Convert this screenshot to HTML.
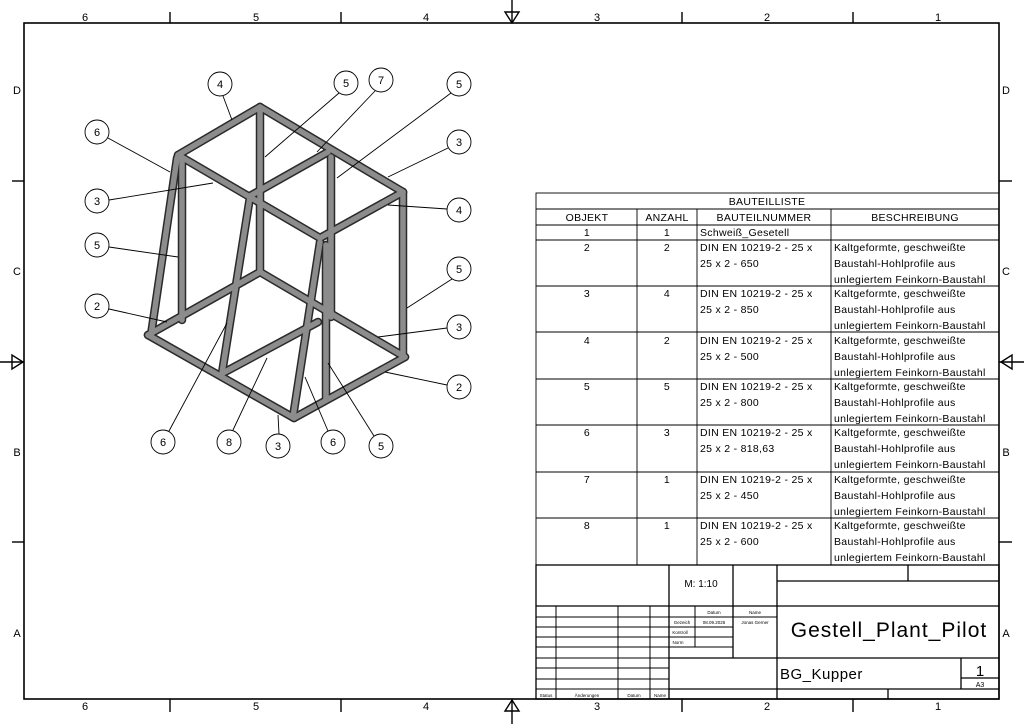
<!DOCTYPE html>
<html><head><meta charset="utf-8"><style>
html,body{margin:0;padding:0;background:#fff}
svg{display:block}
text{font-family:"Liberation Sans","DejaVu Sans",sans-serif;fill:#000}
</style></head><body>
<svg width="1024" height="724" viewBox="0 0 1024 724" xmlns="http://www.w3.org/2000/svg">
<rect x="0" y="0" width="1024" height="724" fill="#fff"/>
<rect x="24" y="23" width="975" height="676" fill="none" stroke="#000" stroke-width="1.6"/>
<g stroke="#000" stroke-width="1.4">
<line x1="170" y1="12" x2="170" y2="23"/><line x1="341" y1="12" x2="341" y2="23"/><line x1="682" y1="12" x2="682" y2="23"/><line x1="853" y1="12" x2="853" y2="23"/>
<line x1="170" y1="699" x2="170" y2="712"/><line x1="341" y1="699" x2="341" y2="712"/><line x1="682" y1="699" x2="682" y2="712"/><line x1="853" y1="699" x2="853" y2="712"/>
<line x1="12" y1="181" x2="24" y2="181"/><line x1="12" y1="542" x2="24" y2="542"/>
<line x1="999" y1="181" x2="1012" y2="181"/><line x1="999" y1="542" x2="1012" y2="542"/>
<line x1="512" y1="0" x2="512" y2="23"/><line x1="512" y1="699" x2="512" y2="724"/>
<line x1="0" y1="362" x2="24" y2="362"/><line x1="999" y1="362" x2="1024" y2="362"/>
</g>
<g fill="none" stroke="#000" stroke-width="1.4">
<polygon points="505,12 519,12 512,23"/><polygon points="505,711 519,711 512,700"/>
<polygon points="12,355 12,369 23,362"/><polygon points="1012,355 1012,369 1001,362"/>
</g>
<g font-size="11" text-anchor="middle">
<text x="85" y="21">6</text><text x="256" y="21">5</text><text x="426" y="21">4</text><text x="597" y="21">3</text><text x="767" y="21">2</text><text x="938" y="21">1</text>
<text x="85" y="710">6</text><text x="256" y="710">5</text><text x="426" y="710">4</text><text x="597" y="710">3</text><text x="767" y="710">2</text><text x="938" y="710">1</text>
<text x="17" y="94">D</text><text x="17" y="275">C</text><text x="17" y="456">B</text><text x="17" y="637">A</text>
<text x="1006" y="94">D</text><text x="1006" y="275">C</text><text x="1006" y="456">B</text><text x="1006" y="637">A</text>
</g>

<!-- frame tubes -->
<g stroke-linecap="round">
<g stroke="#2a2a2a" stroke-width="8.5">
<line x1="260" y1="272" x2="148" y2="335"/><line x1="260" y1="272" x2="405" y2="357"/>
<line x1="260" y1="107" x2="260" y2="272"/><line x1="331" y1="157" x2="331" y2="317"/>
<line x1="182" y1="160" x2="182" y2="320"/><line x1="403" y1="192" x2="403" y2="356"/>
<line x1="223" y1="373" x2="318" y2="322"/>
<line x1="148" y1="335" x2="294" y2="418"/><line x1="294" y1="418" x2="405" y2="357"/>
<line x1="177" y1="158" x2="151" y2="335"/><line x1="250" y1="197" x2="222" y2="373"/>
<line x1="260" y1="107" x2="178" y2="155"/><line x1="260" y1="107" x2="403" y2="192"/>
<line x1="328" y1="152" x2="250" y2="196"/>
<line x1="178" y1="155" x2="320" y2="238"/><line x1="403" y1="192" x2="320" y2="238"/>
<line x1="326" y1="245" x2="326" y2="400"/><line x1="320" y1="242" x2="293" y2="417"/>
</g>
</g>
<g stroke-linecap="round" stroke="#8c8c8c" stroke-width="5.5">
<line x1="260" y1="272" x2="148" y2="335"/><line x1="260" y1="272" x2="405" y2="357"/>
<line x1="260" y1="107" x2="260" y2="272"/><line x1="331" y1="157" x2="331" y2="317"/>
<line x1="182" y1="160" x2="182" y2="320"/><line x1="403" y1="192" x2="403" y2="356"/>
<line x1="223" y1="373" x2="318" y2="322"/>
<line x1="148" y1="335" x2="294" y2="418"/><line x1="294" y1="418" x2="405" y2="357"/>
<line x1="177" y1="158" x2="151" y2="335"/><line x1="250" y1="197" x2="222" y2="373"/>
<line x1="260" y1="107" x2="178" y2="155"/><line x1="260" y1="107" x2="403" y2="192"/>
<line x1="328" y1="152" x2="250" y2="196"/>
<line x1="178" y1="155" x2="320" y2="238"/><line x1="403" y1="192" x2="320" y2="238"/>
<line x1="326" y1="245" x2="326" y2="400"/><line x1="320" y1="242" x2="293" y2="417"/>
</g>

<!-- leaders -->
<g stroke="#000" stroke-width="0.9">
<line x1="223" y1="96" x2="232" y2="120"/><line x1="339" y1="93" x2="265" y2="157"/>
<line x1="375" y1="91" x2="317" y2="152"/><line x1="451" y1="93" x2="337" y2="178"/>
<line x1="108" y1="138" x2="170" y2="172"/><line x1="448" y1="148" x2="388" y2="177"/>
<line x1="109" y1="200" x2="213" y2="183"/><line x1="447" y1="209" x2="388" y2="205"/>
<line x1="109" y1="247" x2="178" y2="257"/><line x1="452" y1="279" x2="407" y2="308"/>
<line x1="109" y1="309" x2="167" y2="322"/><line x1="447" y1="328" x2="378" y2="337"/>
<line x1="447" y1="385" x2="385" y2="372"/><line x1="169" y1="431" x2="227" y2="323"/>
<line x1="233" y1="430" x2="267" y2="358"/><line x1="279" y1="434" x2="278" y2="415"/>
<line x1="328" y1="431" x2="305" y2="377"/><line x1="374" y1="436" x2="328" y2="363"/>
</g>
<g fill="#fff" stroke="#000" stroke-width="0.9">
<circle cx="220" cy="84" r="12"/><circle cx="346" cy="83" r="12"/><circle cx="381" cy="80" r="12"/><circle cx="459" cy="84" r="12"/>
<circle cx="97" cy="132" r="12"/><circle cx="459" cy="142" r="12"/><circle cx="97" cy="201" r="12"/><circle cx="459" cy="210" r="12"/>
<circle cx="97" cy="245" r="12"/><circle cx="459" cy="269" r="12"/><circle cx="97" cy="306" r="12"/><circle cx="459" cy="327" r="12"/>
<circle cx="459" cy="387" r="12"/><circle cx="163" cy="442" r="12"/><circle cx="229" cy="442" r="12"/><circle cx="278" cy="446" r="12"/>
<circle cx="333" cy="442" r="12"/><circle cx="381" cy="446" r="12"/>
</g>
<g font-size="11" text-anchor="middle">
<text x="220" y="88">4</text><text x="346" y="87">5</text><text x="381" y="84">7</text><text x="459" y="88">5</text>
<text x="97" y="136">6</text><text x="459" y="146">3</text><text x="97" y="205">3</text><text x="459" y="214">4</text>
<text x="97" y="249">5</text><text x="459" y="273">5</text><text x="97" y="310">2</text><text x="459" y="331">3</text>
<text x="459" y="391">2</text><text x="163" y="446">6</text><text x="229" y="446">8</text><text x="278" y="450">3</text>
<text x="333" y="446">6</text><text x="381" y="450">5</text>
</g>

<!-- parts list -->
<g stroke="#000" stroke-width="0.9" fill="none">
<rect x="536" y="193" width="463" height="372"/>
<line x1="536" y1="209" x2="999" y2="209"/><line x1="536" y1="225" x2="999" y2="225"/>
<line x1="536" y1="240" x2="999" y2="240"/><line x1="536" y1="286" x2="999" y2="286"/>
<line x1="536" y1="332" x2="999" y2="332"/><line x1="536" y1="379" x2="999" y2="379"/>
<line x1="536" y1="425" x2="999" y2="425"/><line x1="536" y1="472" x2="999" y2="472"/>
<line x1="536" y1="518" x2="999" y2="518"/>
<line x1="637" y1="209" x2="637" y2="565"/><line x1="697" y1="209" x2="697" y2="565"/><line x1="831" y1="209" x2="831" y2="565"/>
</g>
<g font-size="10.5" letter-spacing="0.3">
<text x="767" y="205" text-anchor="middle">BAUTEILLISTE</text>
<text x="587" y="221" text-anchor="middle">OBJEKT</text><text x="667" y="221" text-anchor="middle">ANZAHL</text>
<text x="764" y="221" text-anchor="middle">BAUTEILNUMMER</text><text x="915" y="221" text-anchor="middle">BESCHREIBUNG</text>
<text x="587" y="236" text-anchor="middle">1</text><text x="667" y="236" text-anchor="middle">1</text><text x="700" y="236">Schweiß_Gesetell</text>
</g>
<g font-size="10.5" letter-spacing="0.3">
<g transform="translate(0,0)"><text x="587" y="251" text-anchor="middle">2</text><text x="667" y="251" text-anchor="middle">2</text><text x="700" y="251">DIN EN 10219-2 - 25 x</text><text x="700" y="267">25 x 2  - 650</text><text x="834" y="251">Kaltgeformte, geschweißte</text><text x="834" y="267">Baustahl-Hohlprofile aus</text><text x="834" y="283">unlegiertem Feinkorn-Baustahl</text></g>
<g transform="translate(0,46)"><text x="587" y="251" text-anchor="middle">3</text><text x="667" y="251" text-anchor="middle">4</text><text x="700" y="251">DIN EN 10219-2 - 25 x</text><text x="700" y="267">25 x 2  - 850</text><text x="834" y="251">Kaltgeformte, geschweißte</text><text x="834" y="267">Baustahl-Hohlprofile aus</text><text x="834" y="283">unlegiertem Feinkorn-Baustahl</text></g>
<g transform="translate(0,93)"><text x="587" y="251" text-anchor="middle">4</text><text x="667" y="251" text-anchor="middle">2</text><text x="700" y="251">DIN EN 10219-2 - 25 x</text><text x="700" y="267">25 x 2  - 500</text><text x="834" y="251">Kaltgeformte, geschweißte</text><text x="834" y="267">Baustahl-Hohlprofile aus</text><text x="834" y="283">unlegiertem Feinkorn-Baustahl</text></g>
<g transform="translate(0,139)"><text x="587" y="251" text-anchor="middle">5</text><text x="667" y="251" text-anchor="middle">5</text><text x="700" y="251">DIN EN 10219-2 - 25 x</text><text x="700" y="267">25 x 2  - 800</text><text x="834" y="251">Kaltgeformte, geschweißte</text><text x="834" y="267">Baustahl-Hohlprofile aus</text><text x="834" y="283">unlegiertem Feinkorn-Baustahl</text></g>
<g transform="translate(0,185)"><text x="587" y="251" text-anchor="middle">6</text><text x="667" y="251" text-anchor="middle">3</text><text x="700" y="251">DIN EN 10219-2 - 25 x</text><text x="700" y="267">25 x 2  - 818,63</text><text x="834" y="251">Kaltgeformte, geschweißte</text><text x="834" y="267">Baustahl-Hohlprofile aus</text><text x="834" y="283">unlegiertem Feinkorn-Baustahl</text></g>
<g transform="translate(0,232)"><text x="587" y="251" text-anchor="middle">7</text><text x="667" y="251" text-anchor="middle">1</text><text x="700" y="251">DIN EN 10219-2 - 25 x</text><text x="700" y="267">25 x 2  - 450</text><text x="834" y="251">Kaltgeformte, geschweißte</text><text x="834" y="267">Baustahl-Hohlprofile aus</text><text x="834" y="283">unlegiertem Feinkorn-Baustahl</text></g>
<g transform="translate(0,278)"><text x="587" y="251" text-anchor="middle">8</text><text x="667" y="251" text-anchor="middle">1</text><text x="700" y="251">DIN EN 10219-2 - 25 x</text><text x="700" y="267">25 x 2  - 600</text><text x="834" y="251">Kaltgeformte, geschweißte</text><text x="834" y="267">Baustahl-Hohlprofile aus</text><text x="834" y="283">unlegiertem Feinkorn-Baustahl</text></g>
</g>

<!-- title block -->
<g stroke="#000" stroke-width="1.3" fill="none">
<rect x="536" y="565" width="463" height="134"/>
<line x1="669" y1="565" x2="669" y2="699"/><line x1="733" y1="565" x2="733" y2="658"/><line x1="777" y1="565" x2="777" y2="699"/>
<line x1="536" y1="606" x2="999" y2="606"/>
<line x1="777" y1="581" x2="999" y2="581"/><line x1="908" y1="565" x2="908" y2="581"/>
<line x1="669" y1="658" x2="999" y2="658"/><line x1="777" y1="689" x2="999" y2="689"/>
<line x1="961" y1="658" x2="961" y2="689"/><line x1="961" y1="678" x2="999" y2="678"/>
<line x1="888" y1="689" x2="888" y2="699"/>
<line x1="669" y1="689" x2="777" y2="689"/>
</g>
<g stroke="#000" stroke-width="1" fill="none">
<line x1="536" y1="617" x2="777" y2="617"/><line x1="536" y1="627" x2="733" y2="627"/>
<line x1="536" y1="637" x2="733" y2="637"/><line x1="536" y1="647" x2="733" y2="647"/>
<line x1="536" y1="658" x2="669" y2="658"/><line x1="536" y1="668" x2="669" y2="668"/>
<line x1="536" y1="679" x2="669" y2="679"/><line x1="536" y1="689" x2="669" y2="689"/>
<line x1="556" y1="606" x2="556" y2="699"/><line x1="618" y1="606" x2="618" y2="699"/>
<line x1="650" y1="606" x2="650" y2="699"/><line x1="695" y1="606" x2="695" y2="647"/>
</g>
<g font-size="4.5" text-anchor="middle">
<text x="714" y="614">Datum</text><text x="755" y="614">Name</text>
<text x="682" y="624">Gezeich</text><text x="714" y="624">08.09.2025</text><text x="755" y="624">Jonas Gerner</text>
<text x="680" y="634">Kontroll</text><text x="678" y="644">Norm</text>
<text x="546" y="697">Status</text><text x="587" y="697">Änderungen</text><text x="634" y="697">Datum</text><text x="660" y="697">Name</text>
</g>
<text x="701" y="587" font-size="10" text-anchor="middle">M: 1:10</text>
<text x="889" y="637" font-size="21" text-anchor="middle" letter-spacing="1">Gestell_Plant_Pilot</text>
<text x="780" y="679" font-size="15" letter-spacing="0.5">BG_Kupper</text>
<text x="980" y="676" font-size="15" text-anchor="middle">1</text>
<text x="980" y="687" font-size="7" text-anchor="middle">A3</text>
</svg>
</body></html>
